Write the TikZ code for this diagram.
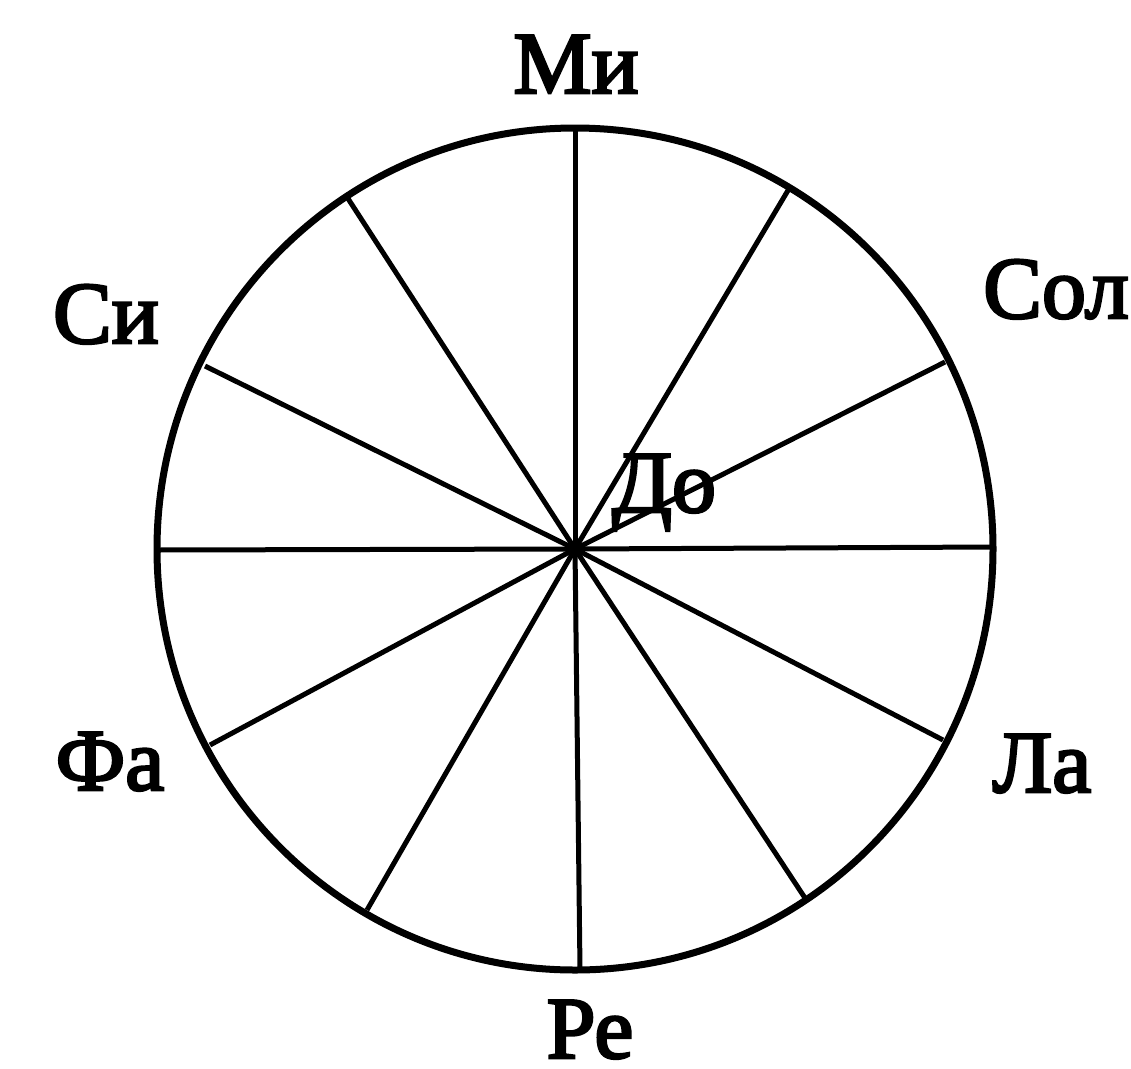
\documentclass[tikz,border=0pt]{standalone}
\usepackage{fontspec}
\setmainfont[FakeBold=3]{Liberation Serif}
\begin{document}
\begin{tikzpicture}[x=1pt,y=-1pt,
  lbl/.style={anchor=base,inner sep=0pt,font=\fontsize{88}{100}\selectfont},
  rim/.style={line width=7pt},
  spoke/.style={line width=5pt}]
\useasboundingbox (0,0) rectangle (1131,1068);
\fill[white] (0,0) rectangle (1131,1068);
\coordinate (c) at (575,549);
\draw[rim] (c) ellipse [x radius=418, y radius=421];
\foreach \n/\x/\y in {p1/575/127,p2/790/187,p3/945/362,p4/993/547,p5/943/740,p6/805/898,p7/580/970,p8/367/910,p9/210/745,p10/157/550,p11/205/366,p12/347/197}{
  \coordinate (\n) at (\x,\y);
  \draw[spoke] (c) -- (\n);
}
\node[lbl] (mi) at (576,93) {Ми};
\node[lbl] (sol) at (1056,318) {Сол};
\node[lbl] (si) at (106,343) {Си};
\node[lbl] (do) at (664,512) {До};
\node[lbl] (fa) at (110,790) {Фа};
\node[lbl] (la) at (1042,792) {Ла};
\node[lbl] (re) at (590,1058) {Ре};
\end{tikzpicture}
\end{document}
